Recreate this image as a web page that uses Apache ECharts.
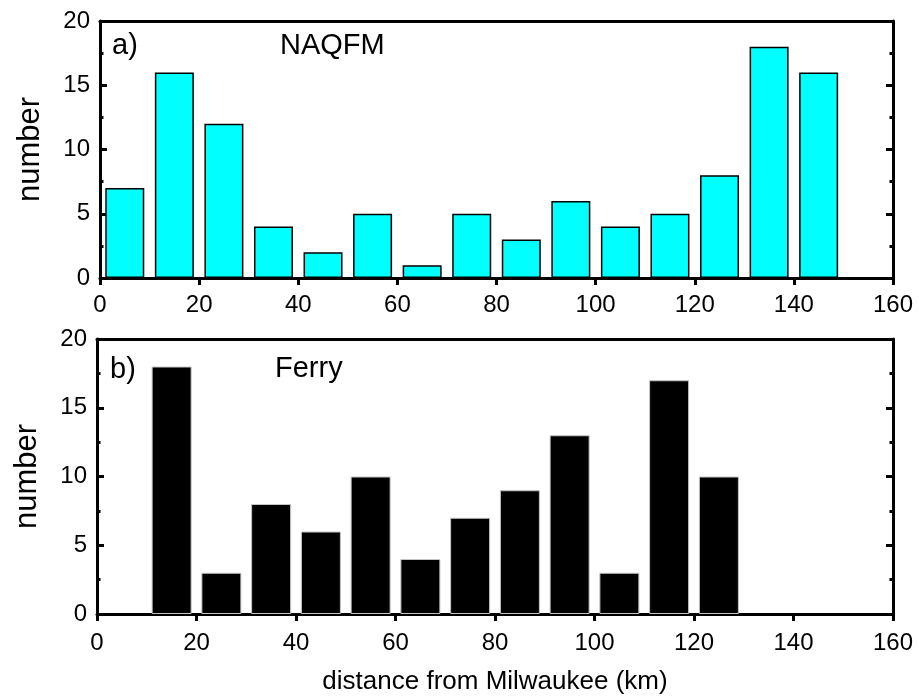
<!DOCTYPE html>
<html><head><meta charset="utf-8">
<script src="https://cdn.jsdelivr.net/npm/echarts@6/dist/echarts.min.js"></script>
<style>html,body{margin:0;padding:0;background:#fff}#c{width:919px;height:698px}</style>
</head><body><div id="c"></div>
<script>
// 10 km bins, centres
const binCenters = [5, 15, 25, 35, 45, 55, 65, 75, 85, 95, 105, 115, 125, 135, 145, 155];
const naqfmCounts = [7, 16, 12, 4, 2, 5, 1, 5, 3, 6, 4, 5, 8, 18, 16, 0];
const ferryCounts = [0, 18, 3, 8, 6, 10, 4, 7, 9, 13, 3, 17, 10, 0, 0, 0];
const xTickValues = [0, 20, 40, 60, 80, 100, 120, 140, 160];
const yTickValues = [0, 5, 10, 15, 20];
const panelLabels = ['a)', 'b)'];
const panelNames = ['NAQFM', 'Ferry'];
const xTitle = 'distance from Milwaukee (km)';
const yTitle = 'number';

const FONT = "'Liberation Sans', Arial, sans-serif";
const chart = echarts.init(document.getElementById('c'), null, {renderer: 'canvas'});

function pairs(vals) {
  return binCenters.map((c, i) => [c, vals[i]]).filter(p => p[1] > 0);
}

const axisLine = {show: true, onZero: false, lineStyle: {color: '#000', width: 3}};
const grids = [
  {left: 100, top: 21, width: 793, height: 257},
  {left: 97, top: 339, width: 796, height: 275}
];
const xMargins = [15, 17];

const xAxes = [], yAxes = [];
[0, 1].forEach(g => {
  xAxes.push({
    type: 'value', gridIndex: g, position: 'bottom',
    min: xTickValues[0], max: xTickValues[xTickValues.length - 1], interval: 20,
    axisLine: axisLine,
    axisTick: {show: true, inside: false, length: 7, lineStyle: {width: 3, color: '#000'}},
    axisLabel: {show: true, margin: xMargins[g], color: '#000', fontSize: 24, fontFamily: FONT},
    splitLine: {show: false},
    name: g === 1 ? xTitle : '', nameLocation: 'middle', nameGap: 55,
    nameTextStyle: {color: '#000', fontSize: 26, fontFamily: FONT}
  });
  xAxes.push({
    type: 'value', gridIndex: g, position: 'top',
    min: 0, max: 160, interval: 20,
    axisLine: axisLine, axisTick: {show: false}, axisLabel: {show: false}, splitLine: {show: false}
  });
  yAxes.push({
    type: 'value', gridIndex: g, position: 'left',
    min: yTickValues[0], max: yTickValues[yTickValues.length - 1], interval: 5,
    axisLine: axisLine,
    axisTick: {show: true, inside: true, length: 7, lineStyle: {width: 3, color: '#000'}},
    minorTick: {show: true, splitNumber: 2, length: 3.5, lineStyle: {width: 3, color: '#000'}},
    axisLabel: {show: true, margin: 10, color: '#000', fontSize: 24, fontFamily: FONT},
    splitLine: {show: false},
    name: yTitle, nameLocation: 'middle', nameGap: 54,
    nameTextStyle: {color: '#000', fontSize: 31, fontFamily: FONT}
  });
  yAxes.push({
    type: 'value', gridIndex: g, position: 'right',
    min: 0, max: 20, interval: 5,
    axisLine: axisLine,
    axisTick: {show: true, inside: true, length: 7, lineStyle: {width: 3, color: '#000'}},
    minorTick: {show: true, splitNumber: 2, length: 3.5, lineStyle: {width: 3, color: '#000'}},
    axisLabel: {show: false}, splitLine: {show: false}
  });
});

const option = {
  animation: false,
  backgroundColor: '#fff',
  grid: grids,
  xAxis: xAxes,
  yAxis: yAxes,
  series: [
    {
      type: 'bar', xAxisIndex: 0, yAxisIndex: 0, barWidth: 39,
      data: pairs(naqfmCounts),
      itemStyle: {color: '#00FFFF', borderColor: '#000', borderWidth: 1.5}
    },
    {
      type: 'bar', xAxisIndex: 2, yAxisIndex: 2, barWidth: 40,
      data: pairs(ferryCounts),
      itemStyle: {color: '#000', borderColor: '#c4c4c4', borderWidth: 1}
    }
  ],
  graphic: [
    {type: 'text', left: 112, top: 31, style: {text: panelLabels[0], font: '29px ' + FONT, fill: '#000'}},
    {type: 'text', left: 280, top: 31, style: {text: panelNames[0], font: '29px ' + FONT, fill: '#000'}},
    {type: 'text', left: 110, top: 355, style: {text: panelLabels[1], font: '29px ' + FONT, fill: '#000'}},
    {type: 'text', left: 275, top: 354, style: {text: panelNames[1], font: '29px ' + FONT, fill: '#000'}}
  ]
};
chart.setOption(option);
</script>
</body></html>
